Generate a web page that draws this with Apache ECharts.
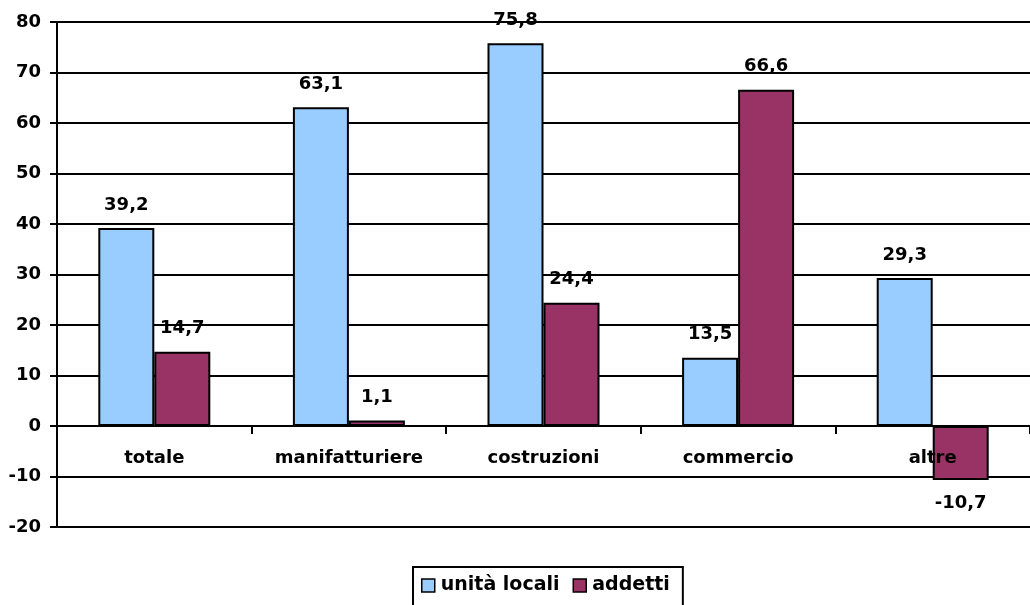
<!DOCTYPE html>
<html>
<head>
<meta charset="utf-8">
<script src="https://cdn.jsdelivr.net/npm/echarts@6/dist/echarts.min.js"></script>
<style>
  html, body { margin: 0; padding: 0; background: #ffffff; }
  #chart { width: 1030px; height: 605px; }
</style>
</head>
<body>
<div id="chart"></div>
<script>
// Variazione percentuale per settore
const categories = ['totale', 'manifatturiere', 'costruzioni', 'commercio', 'altre'];
const unitaLocali = [39.2, 63.1, 75.8, 13.5, 29.3];
const addetti = [14.7, 1.1, 24.4, 66.6, -10.7];
const seriesNames = ['unità locali', 'addetti'];

const FONT = '"DejaVu Sans", "Liberation Sans", Arial, sans-serif';
const fmt = v => String(v).replace('.', ',');

const chart = echarts.init(document.getElementById('chart'), null, { renderer: 'canvas' });

const labelStyle = {
  show: true,
  fontFamily: FONT,
  fontWeight: 'bold',
  fontSize: 18,
  color: '#000',
  distance: 14,
  formatter: p => fmt(p.value)
};

// negative values get their label under the bar end
const withLabels = arr => arr.map(v => (v < 0 ? { value: v, label: { position: 'bottom' } } : v));

chart.setOption({
  animation: false,
  backgroundColor: '#ffffff',
  grid: { left: 57, right: -7, top: 22, bottom: 78, containLabel: false },
  legend: {
    data: seriesNames,
    left: 413,
    top: 567,
    icon: 'rect',
    itemWidth: 13,
    itemHeight: 13,
    itemGap: 13,
    padding: [9, 13, 16, 8],
    borderColor: '#000',
    borderWidth: 2,
    itemStyle: { borderColor: '#000', borderWidth: 1.5 },
    textStyle: { fontFamily: FONT, fontWeight: 'bold', fontSize: 19, color: '#000', padding: [0, 0, 0, 1] }
  },
  xAxis: {
    type: 'category',
    data: categories,
    z: 5,
    axisLine: { onZero: true, lineStyle: { color: '#000', width: 2 } },
    axisTick: { show: true, length: 8, lineStyle: { color: '#000', width: 2 } },
    axisLabel: { margin: -78, fontFamily: FONT, fontWeight: 'bold', fontSize: 18, color: '#000' },
    splitLine: { show: false }
  },
  yAxis: {
    type: 'value',
    min: -20,
    max: 80,
    interval: 10,
    axisLine: { show: true, lineStyle: { color: '#000', width: 2 } },
    axisTick: { show: true, length: 7, lineStyle: { color: '#000', width: 2 } },
    axisLabel: { margin: 16, fontFamily: FONT, fontWeight: 'bold', fontSize: 18, color: '#000' },
    splitLine: { show: true, lineStyle: { color: '#000', width: 2 } }
  },
  series: [
    {
      name: seriesNames[0],
      type: 'bar',
      data: withLabels(unitaLocali),
      barWidth: 56,
      barGap: '0%',
      itemStyle: { color: '#99ccff', borderColor: '#000', borderWidth: 2 },
      label: Object.assign({ position: 'top' }, labelStyle)
    },
    {
      name: seriesNames[1],
      type: 'bar',
      data: withLabels(addetti),
      barWidth: 56,
      barGap: '0%',
      itemStyle: { color: '#993366', borderColor: '#000', borderWidth: 2 },
      label: Object.assign({ position: 'top' }, labelStyle)
    }
  ]
});
</script>
</body>
</html>
